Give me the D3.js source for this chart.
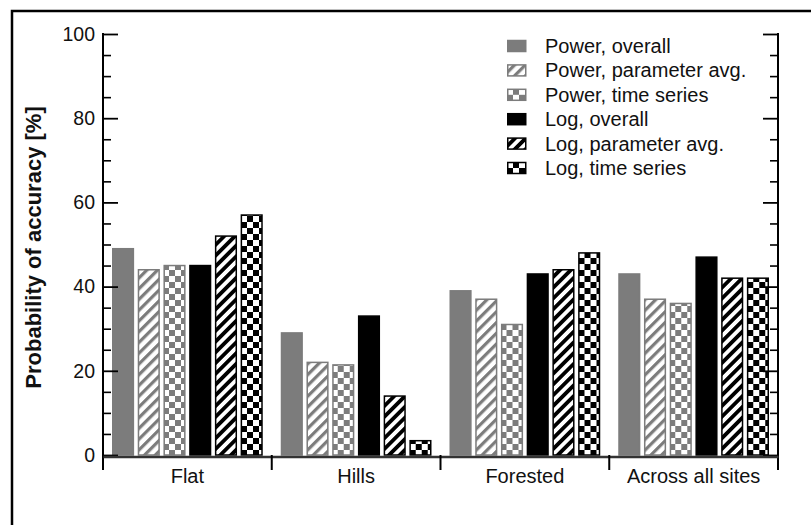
<!DOCTYPE html>
<html>
<head>
<meta charset="utf-8">
<script src="https://cdn.jsdelivr.net/npm/d3@7"></script>
<style>
  html, body { margin: 0; padding: 0; background: white; overflow: hidden; }
  text { font-family: "Liberation Sans", Arial, sans-serif; }
</style>
</head>
<body>
<div id="vis"></div>
<script>
const categories = ["Flat", "Hills", "Forested", "Across all sites"];
const seriesNames = [
  "Power, overall",
  "Power, parameter avg.",
  "Power, time series",
  "Log, overall",
  "Log, parameter avg.",
  "Log, time series",
];
// values per series, same order as categories
const powerOverall = [49, 29, 39, 43];
const powerParam = [44, 22, 37, 37];
const powerTs = [45, 21.4, 31, 36];
const logOverall = [45, 33, 43, 47];
const logParam = [52, 14, 44, 42];
const logTs = [57, 3.4, 48, 42];
const yMajorTicks = [0, 20, 40, 60, 80, 100];

const seriesValues = [powerOverall, powerParam, powerTs, logOverall, logParam, logTs];

const width = 811;
const height = 525;
const margin = { top: 34, right: 33, bottom: 70, left: 103 };

var svg = d3
  .select("#vis")
  .append("svg")
  .attr("width", width)
  .attr("height", height)
  .style("display", "block");

const gray = "#7c7c7c";

// patterns
const defs = svg.append("defs");

function stripes(id, color, w) {
  const p = defs
    .append("pattern")
    .attr("id", id)
    .attr("patternUnits", "userSpaceOnUse")
    .attr("width", 7.6)
    .attr("height", 7.6)
    .attr("patternTransform", "rotate(45)");
  p.append("rect").attr("width", 7.6).attr("height", 7.6).attr("fill", "white");
  p.append("rect").attr("width", w).attr("height", 7.6).attr("fill", color);
}

function checker(id, color) {
  const p = defs
    .append("pattern")
    .attr("id", id)
    .attr("patternUnits", "userSpaceOnUse")
    .attr("width", 12)
    .attr("height", 12);
  p.append("rect").attr("width", 12).attr("height", 12).attr("fill", "white");
  p.append("rect").attr("width", 6).attr("height", 6).attr("fill", color);
  p.append("rect").attr("x", 6).attr("y", 6).attr("width", 6).attr("height", 6).attr("fill", color);
}

stripes("gray-stripes", gray, 3.2);
checker("gray-check", gray);
stripes("black-stripes", "black", 3.8);
checker("black-check", "black");

const fills = [gray, "url(#gray-stripes)", "url(#gray-check)", "black", "url(#black-stripes)", "url(#black-check)"];
const strokes = [gray, gray, gray, "black", "black", "black"];

// outer frame: only top and left edges fall inside the picture
svg
  .append("path")
  .attr("d", `M${width},11 H12 V${height}`)
  .attr("fill", "none")
  .attr("stroke", "black")
  .attr("stroke-width", 2.5);

// scales
var x0 = d3
  .scaleBand()
  .domain(categories)
  .range([margin.left, width - margin.right]);

var x1 = d3
  .scaleBand()
  .domain(d3.range(seriesNames.length))
  .range([9, x0.bandwidth() - 9])
  .paddingInner(0.14);

var y = d3
  .scaleLinear()
  .domain([0, 100])
  .range([455, margin.top]);

// bars
const groups = svg
  .append("g")
  .selectAll("g")
  .data(categories)
  .join("g")
  .attr("transform", (d) => `translate(${x0(d)},0)`);

groups
  .selectAll("rect")
  .data((d, ci) => seriesValues.map((s, si) => ({ si: si, v: s[ci] })))
  .join("rect")
  .attr("x", (d) => x1(d.si) + 0.75)
  .attr("width", x1.bandwidth() - 1.5)
  .attr("y", (d) => y(d.v))
  .attr("height", (d) => y(0) - y(d.v))
  .attr("fill", (d) => fills[d.si])
  .attr("stroke", (d) => strokes[d.si])
  .attr("stroke-width", 1.5);

// y axis, left
const bottomEnd = 470;
const minorTicks = d3.range(5, 100, 5).filter((d) => d % 20 !== 0);

const yLeft = svg.append("g").attr("transform", `translate(${margin.left},0)`);
yLeft.call(
  d3.axisLeft(y).tickValues(yMajorTicks).tickSize(-15).tickPadding(8).tickFormat(d3.format("d"))
);
yLeft.call((g) => g.select(".domain").remove());
yLeft.selectAll(".tick line").attr("stroke", "black").attr("stroke-width", 1.8);
yLeft
  .selectAll("text")
  .attr("font-size", 19.5)
  .attr("fill", "#111")
  .attr("font-family", "Liberation Sans, Arial, sans-serif");

const yLeftMinor = svg.append("g").attr("transform", `translate(${margin.left},0)`);
yLeftMinor.call(d3.axisLeft(y).tickValues(minorTicks).tickSize(-8).tickFormat(""));
yLeftMinor.select(".domain").remove();
yLeftMinor.selectAll(".tick line").attr("stroke", "black").attr("stroke-width", 1.6);

// y axis, right (mirror, ticks only)
const rightX = width - margin.right;
const yRight = svg.append("g").attr("transform", `translate(${rightX},0)`);
yRight.call(d3.axisRight(y).tickValues(yMajorTicks).tickSize(-15).tickFormat(""));
yRight.select(".domain").remove();
yRight.selectAll(".tick line").attr("stroke", "black").attr("stroke-width", 1.8);

const yRightMinor = svg.append("g").attr("transform", `translate(${rightX},0)`);
yRightMinor.call(d3.axisRight(y).tickValues(minorTicks).tickSize(-8).tickFormat(""));
yRightMinor.select(".domain").remove();
yRightMinor.selectAll(".tick line").attr("stroke", "black").attr("stroke-width", 1.6);

// vertical axis lines
[margin.left, rightX].forEach((xx) => {
  svg
    .append("line")
    .attr("x1", xx)
    .attr("x2", xx)
    .attr("y1", y(100) - 1)
    .attr("y2", bottomEnd)
    .attr("stroke", "black")
    .attr("stroke-width", 2);
});

// x axis
const xAxis = svg.append("g").attr("transform", `translate(0,${y(0) + 1.5})`);
xAxis.call(d3.axisBottom(x0).tickSize(0).tickPadding(12));
xAxis.select(".domain").attr("stroke", "#333").attr("stroke-width", 2.5);
xAxis
  .selectAll("text")
  .attr("font-size", 20)
  .attr("fill", "#111")
  .attr("font-family", "Liberation Sans, Arial, sans-serif");

// category separators
svg
  .append("g")
  .selectAll("line")
  .data(categories.slice(1))
  .join("line")
  .attr("x1", (d) => x0(d))
  .attr("x2", (d) => x0(d))
  .attr("y1", y(0))
  .attr("y2", bottomEnd)
  .attr("stroke", "black")
  .attr("stroke-width", 2);

// y label
svg
  .append("text")
  .attr("transform", `translate(41,${(y(0) + y(100)) / 2 + 3}) rotate(-90)`)
  .attr("text-anchor", "middle")
  .attr("font-size", 22)
  .attr("font-weight", "bold")
  .attr("fill", "#111")
  .text("Probability of accuracy [%]");

// legend
const key = svg.append("g").attr("transform", "translate(507,46)");
const items = key
  .selectAll("g")
  .data(seriesNames)
  .join("g")
  .attr("transform", (d, i) => `translate(0,${i * 24.4})`);

items
  .append("rect")
  .attr("x", 0.75)
  .attr("y", -5.5)
  .attr("width", 18)
  .attr("height", 11)
  .attr("fill", (d, i) => fills[i])
  .attr("stroke", (d, i) => strokes[i])
  .attr("stroke-width", 1.5);

items
  .append("text")
  .attr("x", 38)
  .attr("y", 7)
  .attr("font-size", 20)
  .attr("fill", "#111")
  .text((d) => d);
</script>
</body>
</html>
